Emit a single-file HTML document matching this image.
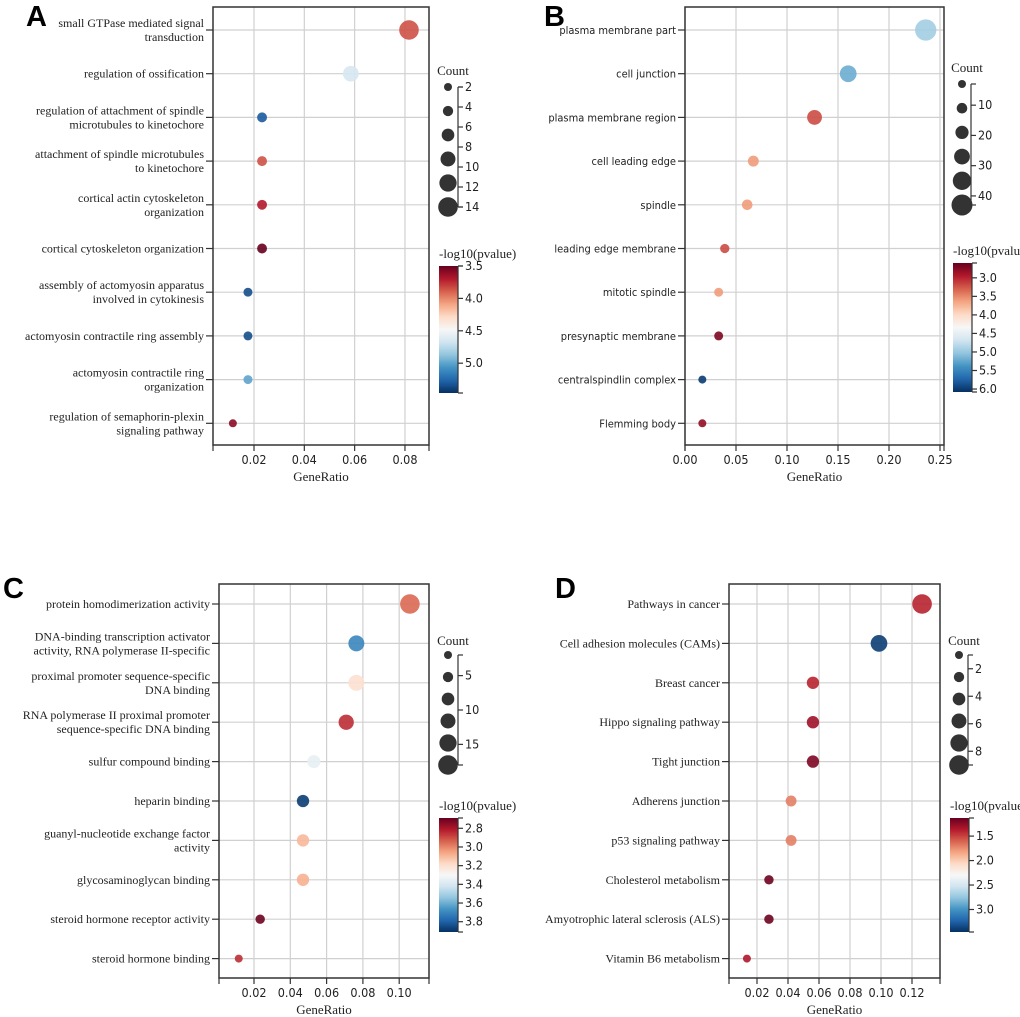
<!DOCTYPE html>
<html><head><meta charset="utf-8"><style>
html,body{margin:0;padding:0;background:#fff;}
svg{display:block;}
.lab{font-family:"Liberation Serif",serif;font-size:12px;fill:#222;}
.sans{font-family:"DejaVu Sans Condensed","DejaVu Sans","Liberation Sans",sans-serif;font-size:11px;fill:#222;}
.tick{font-family:"DejaVu Sans Condensed","DejaVu Sans","Liberation Sans",sans-serif;font-size:12.5px;fill:#222;}
.ttl{font-family:"Liberation Serif",serif;font-size:13px;fill:#222;}
.big{font-family:"Liberation Sans",sans-serif;font-size:29px;font-weight:bold;fill:#000;}
</style></head><body>
<svg id="chart" width="1020" height="1017" xmlns="http://www.w3.org/2000/svg">
<defs>
<linearGradient id="rdbu" x1="0" y1="0" x2="0" y2="1">
<stop offset="0" stop-color="#67001f"/><stop offset="0.1" stop-color="#b2182b"/><stop offset="0.2" stop-color="#d6604d"/><stop offset="0.3" stop-color="#f4a582"/><stop offset="0.4" stop-color="#fddbc7"/><stop offset="0.5" stop-color="#f7f7f7"/><stop offset="0.6" stop-color="#d1e5f0"/><stop offset="0.7" stop-color="#92c5de"/><stop offset="0.8" stop-color="#4393c3"/><stop offset="0.9" stop-color="#2166ac"/><stop offset="1" stop-color="#053061"/>
</linearGradient>
</defs>
</svg>
<script>
// Panel A data
const aTerms = [["small GTPase mediated signal","transduction"],["regulation of ossification"],["regulation of attachment of spindle","microtubules to kinetochore"],["attachment of spindle microtubules","to kinetochore"],["cortical actin cytoskeleton","organization"],["cortical cytoskeleton organization"],["assembly of actomyosin apparatus","involved in cytokinesis"],["actomyosin contractile ring assembly"],["actomyosin contractile ring","organization"],["regulation of semaphorin-plexin","signaling pathway"]];
const aRatio = [0.0816,0.0585,0.0232,0.0232,0.0232,0.0232,0.0176,0.0176,0.0176,0.0116];
const aCount = [14,10,4,4,4,4,3,3,3,2];
const aLogP = [3.85,4.65,5.3,3.85,3.7,3.5,5.35,5.35,5.0,3.6];
const aXTicks = [0.02,0.04,0.06,0.08];
const aCountTicks = [2,4,6,8,10,12,14];
const aColorTicks = [3.5,4.0,4.5,5.0];
// Panel B data
const bTerms = [["plasma membrane part"],["cell junction"],["plasma membrane region"],["cell leading edge"],["spindle"],["leading edge membrane"],["mitotic spindle"],["presynaptic membrane"],["centralspindlin complex"],["Flemming body"]];
const bRatio = [0.236,0.160,0.127,0.067,0.061,0.039,0.033,0.033,0.017,0.017];
const bCount = [44,30,24,12,11,7,6,6,3,3];
const bLogP = [4.95,5.2,3.2,3.6,3.6,3.2,3.6,2.7,6.0,2.8];
const bXTicks = [0.00,0.05,0.10,0.15,0.20,0.25];
const bCountTicks = [10,20,30,40];
const bColorTicks = [3.0,3.5,4.0,4.5,5.0,5.5,6.0];
// Panel C data
const cTerms = [["protein homodimerization activity"],["DNA-binding transcription activator","activity, RNA polymerase II-specific"],["proximal promoter sequence-specific","DNA binding"],["RNA polymerase II proximal promoter","sequence-specific DNA binding"],["sulfur compound binding"],["heparin binding"],["guanyl-nucleotide exchange factor","activity"],["glycosaminoglycan binding"],["steroid hormone receptor activity"],["steroid hormone binding"]];
const cRatio = [0.1059,0.0764,0.0764,0.0708,0.053,0.047,0.047,0.047,0.0234,0.0116];
const cCount = [18,13,13,12,9,8,8,8,4,2];
const cLogP = [2.95,3.7,3.2,2.85,3.35,3.88,3.1,3.08,2.7,2.85];
const cXTicks = [0.02,0.04,0.06,0.08,0.10];
const cCountTicks = [5,10,15];
const cColorTicks = [2.8,3.0,3.2,3.4,3.6,3.8];
// Panel D data
const dTerms = [["Pathways in cancer"],["Cell adhesion molecules (CAMs)"],["Breast cancer"],["Hippo signaling pathway"],["Tight junction"],["Adherens junction"],["p53 signaling pathway"],["Cholesterol metabolism"],["Amyotrophic lateral sclerosis (ALS)"],["Vitamin B6 metabolism"]];
const dRatio = [0.1265,0.0987,0.0561,0.0561,0.0561,0.042,0.042,0.0277,0.0277,0.0135];
const dCount = [9,7,4,4,4,3,3,2,2,1];
const dLogP = [1.4,3.4,1.4,1.3,1.2,1.7,1.7,1.15,1.15,1.35];
const dXTicks = [0.02,0.04,0.06,0.08,0.10,0.12];
const dCountTicks = [2,4,6,8];
const dColorTicks = [1.5,2.0,2.5,3.0];

const NS="http://www.w3.org/2000/svg";
const svg=document.getElementById('chart');
const stops=["#67001f","#b2182b","#d6604d","#f4a582","#fddbc7","#f7f7f7","#d1e5f0","#92c5de","#4393c3","#2166ac","#053061"];
function hex(h){return [1,3,5].map(i=>parseInt(h.substr(i,2),16));}
function cmap(t){t=Math.max(0,Math.min(1,t));const f=t*10,i=Math.min(9,Math.floor(f)),r=f-i;const a=hex(stops[i]),b=hex(stops[i+1]);return 'rgb('+a.map((v,k)=>Math.round(v+(b[k]-v)*r)).join(',')+')';}
function mk(tag,attrs,parent){const e=document.createElementNS(NS,tag);for(const k in attrs)e.setAttribute(k,attrs[k]);(parent||svg).appendChild(e);return e;}

function panel(P){
  const g=mk('g',{});
  
  
  const xs=v=>P.x0px+(v-P.xv0)*P.k;
  const ys=i=>P.y0+i*P.dy;
  const rs=c=>P.r0+(c-P.cmin)/(P.cmax-P.cmin)*(P.r1-P.r0);
  const cs=v=>cmap((v-P.vTop)/(P.vBot-P.vTop));
  P.xt.forEach(v=>{const l=mk('line',{x1:xs(v),x2:xs(v),y1:P.top,y2:P.bot,stroke:'#d0d0d0','stroke-width':1.2},g);
    });
  P.terms.forEach((t,i)=>{const l=mk('line',{x1:P.left,x2:P.right,y1:ys(i),y2:ys(i),stroke:'#d0d0d0','stroke-width':1.2},g);
    });
  const fr=mk('rect',{x:P.left,y:P.top,width:P.right-P.left,height:P.bot-P.top,fill:'none',stroke:'#333','stroke-width':1.5},g);
  
  P.xt.forEach(v=>{mk('line',{x1:xs(v),x2:xs(v),y1:P.bot,y2:P.bot+6,stroke:'#333','stroke-width':1.2},g);
    const t=mk('text',{x:xs(v),y:P.bot+19,'text-anchor':'middle',class:'tick'},g);t.textContent=v.toFixed(2);
    });
  mk('line',{x1:P.left,x2:P.left,y1:P.bot,y2:P.bot+6,stroke:'#333','stroke-width':1.2},g);
  mk('line',{x1:P.right,x2:P.right,y1:P.bot,y2:P.bot+6,stroke:'#333','stroke-width':1.2},g);
  const xt=mk('text',{x:(P.left+P.right)/2,y:P.bot+36,'text-anchor':'middle',class:'ttl'},g);xt.textContent='GeneRatio';
  
  P.terms.forEach((t,i)=>{mk('line',{x1:P.left-7,x2:P.left,y1:ys(i),y2:ys(i),stroke:'#333','stroke-width':1.2},g);
    const n=t.length;t.forEach((s,j)=>{const tx=mk('text',{x:P.left-9,y:ys(i)+4+(j-(n-1)/2)*14,'text-anchor':'end',class:P.sans?'sans':'lab'},g);tx.textContent=s;
      });});
  P.terms.forEach((t,i)=>{const c=mk('circle',{cx:xs(P.ratio[i]),cy:ys(i),r:rs(P.count[i]),fill:cs(P.logp[i]),'fill-opacity':0.9},g);
    });
  const ct=mk('text',{x:P.lx+5,y:P.ltitle,'text-anchor':'middle',class:'ttl'},g);ct.textContent='Count';
  
  const ly=v=>P.lt0+(v-P.cmin)/(P.cmax-P.cmin)*(P.lt1-P.lt0);
  for(let j=0;j<6;j++){const c=P.cmin+j*(P.cmax-P.cmin)/5;const e=mk('circle',{cx:P.lx,cy:ly(c),r:rs(c),fill:'#333'},g);
    }
  mk('line',{x1:P.bx,x2:P.bx,y1:P.lt0,y2:P.lt1,stroke:'#333','stroke-width':1.2},g);
  mk('line',{x1:P.bx,x2:P.bx+5,y1:P.lt0,y2:P.lt0,stroke:'#333','stroke-width':1.2},g);
  mk('line',{x1:P.bx,x2:P.bx+5,y1:P.lt1,y2:P.lt1,stroke:'#333','stroke-width':1.2},g);
  P.ct.forEach(v=>{mk('line',{x1:P.bx,x2:P.bx+5,y1:ly(v),y2:ly(v),stroke:'#333','stroke-width':1.2},g);
    const t=mk('text',{x:P.bx+7,y:ly(v)+4,class:'tick'},g);t.textContent=v;
    });
  const cbt=mk('text',{x:P.cbx,y:P.cbTop-8,class:'ttl'},g);cbt.textContent='-log10(pvalue)';
  
  const cb=mk('rect',{x:P.cbx,y:P.cbTop,width:19,height:P.cbBot-P.cbTop,fill:'url(#rdbu)'},g);
  
  const cy=v=>P.cbTop+(v-P.vTop)/(P.vBot-P.vTop)*(P.cbBot-P.cbTop);
  mk('line',{x1:P.cbx+19,x2:P.cbx+19,y1:P.cbTop,y2:P.cbBot,stroke:'#333','stroke-width':1.2},g);
  mk('line',{x1:P.cbx+19,x2:P.cbx+24,y1:P.cbTop,y2:P.cbTop,stroke:'#333','stroke-width':1.2},g);
  mk('line',{x1:P.cbx+19,x2:P.cbx+24,y1:P.cbBot,y2:P.cbBot,stroke:'#333','stroke-width':1.2},g);
  P.cbt.forEach(v=>{mk('line',{x1:P.cbx+19,x2:P.cbx+24,y1:cy(v),y2:cy(v),stroke:'#333','stroke-width':1.2},g);
    const t=mk('text',{x:P.cbx+26,y:cy(v)+4,class:'tick'},g);t.textContent=v.toFixed(1);
    });
  const L=mk('text',{x:P.lettX,y:P.lettY,class:'big'},g);L.textContent=P.letter;
  
}

panel({name:'panel-a',letter:'A',lettX:26,lettY:26,terms:aTerms,ratio:aRatio,count:aCount,logp:aLogP,xt:aXTicks,ct:aCountTicks,cbt:aColorTicks,
 left:213,right:429,top:7,bot:445,y0:30,dy:43.7,x0px:254,xv0:0.02,k:2516,
 cmin:2,cmax:14,r0:4,r1:9.8,lx:448,bx:458,lt0:87,lt1:207,ltitle:75,
 vTop:3.5,vBot:5.46,cbx:439,cbTop:266,cbBot:393});
panel({name:'panel-b',letter:'B',lettX:544,lettY:26,sans:true,terms:bTerms,ratio:bRatio,count:bCount,logp:bLogP,xt:bXTicks,ct:bCountTicks,cbt:bColorTicks,
 left:685,right:944,top:7,bot:445,y0:30,dy:43.7,x0px:685,xv0:0,k:1020,
 cmin:3,cmax:43,r0:4,r1:10.5,lx:962,bx:971,lt0:84,lt1:205,ltitle:72,
 vTop:2.6,vBot:6.08,cbx:953,cbTop:263,cbBot:392});
panel({name:'panel-c',letter:'C',lettX:3,lettY:598,terms:cTerms,ratio:cRatio,count:cCount,logp:cLogP,xt:cXTicks,ct:cCountTicks,cbt:cColorTicks,
 left:219,right:429,top:584,bot:978,y0:604,dy:39.4,x0px:254,xv0:0.02,k:1815,
 cmin:2,cmax:18,r0:4,r1:9.8,lx:448,bx:458,lt0:655,lt1:765,ltitle:645,
 vTop:2.69,vBot:3.91,cbx:439,cbTop:818,cbBot:932});
panel({name:'panel-d',letter:'D',lettX:555,lettY:598,terms:dTerms,ratio:dRatio,count:dCount,logp:dLogP,xt:dXTicks,ct:dCountTicks,cbt:dColorTicks,
 left:729,right:940,top:584,bot:978,y0:604,dy:39.4,x0px:757,xv0:0.02,k:1550,
 cmin:1,cmax:9,r0:4,r1:9.8,lx:959,bx:968,lt0:655,lt1:765,ltitle:645,
 vTop:1.13,vBot:3.46,cbx:950,cbTop:818,cbBot:932});
</script>
</body></html>
